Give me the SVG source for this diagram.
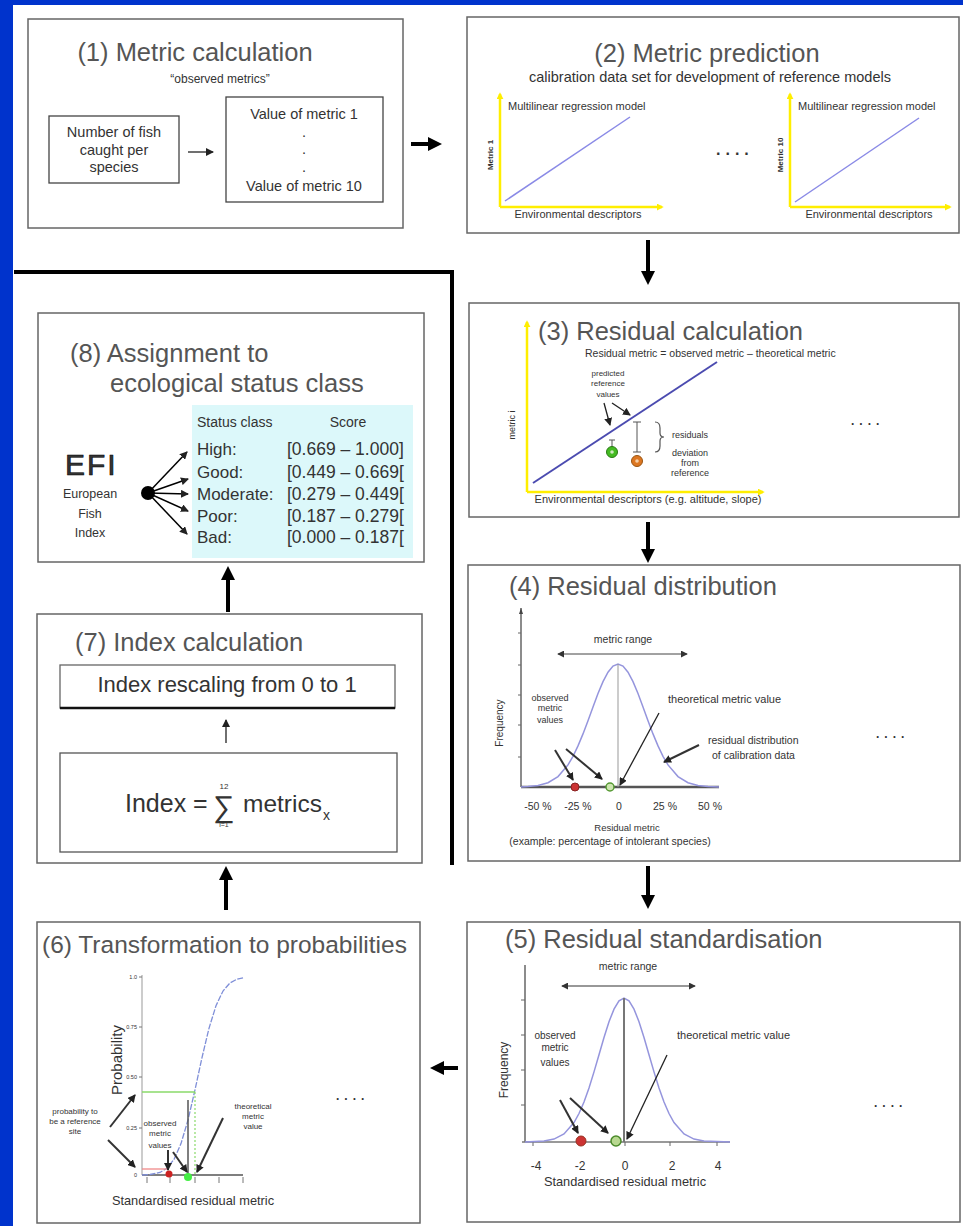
<svg xmlns="http://www.w3.org/2000/svg" width="963" height="1226" viewBox="0 0 963 1226">
<style>
text{font-family:'Liberation Sans',Arial,Helvetica,sans-serif;fill:#333}
.ttl{font-size:25.5px;fill:#555}
.panel{fill:#fff;stroke:#666;stroke-width:1.5}
.box{fill:none;stroke:#444;stroke-width:1.3}
.big{stroke:#000;stroke-width:4;fill:none;marker-end:url(#bh)}
.thin{stroke:#222;stroke-width:1.3;fill:none;marker-end:url(#sh)}
.ptr{stroke:#333;stroke-width:2;fill:none;marker-end:url(#sh)}
.yel{stroke:#ffee00;stroke-width:2.5;fill:none;marker-end:url(#yh)}
.ax{stroke:#666;stroke-width:1.5;fill:none}
.bell{fill:none;stroke:#9595dd;stroke-width:1.5}
.reg{stroke:#8a8ae6;stroke-width:1.5}
.mid{text-anchor:middle}
.dots{font-size:16px;font-weight:bold;letter-spacing:5px;fill:#333}
</style>
<defs>
<marker id="bh" viewBox="0 0 14 14" markerWidth="14" markerHeight="14" refX="4" refY="7" orient="auto" markerUnits="userSpaceOnUse"><path d="M0,0L14,7L0,14z" fill="#000"/></marker>
<marker id="sh" viewBox="0 0 8 8" markerWidth="8" markerHeight="8" refX="7" refY="4" orient="auto" markerUnits="userSpaceOnUse"><path d="M0,0L8,4L0,8z" fill="#222"/></marker>
<marker id="yh" viewBox="0 0 8 8" markerWidth="7" markerHeight="7" refX="6" refY="4" orient="auto" markerUnits="userSpaceOnUse"><path d="M0,0L8,4L0,8z" fill="#ffee00"/></marker>
<marker id="dh" viewBox="0 0 8 8" markerWidth="7" markerHeight="7" refX="7" refY="4" orient="auto-start-reverse" markerUnits="userSpaceOnUse"><path d="M0,0L8,4L0,8z" fill="#333"/></marker>
</defs>

<rect x="0" y="0" width="963" height="1226" fill="#0033cc"/>
<rect x="13" y="5" width="950" height="1221" fill="#fff"/>

<g id="frame">
<polyline points="14,272 452,272 452,865" fill="none" stroke="#000" stroke-width="4"/>
</g>

<g id="p1">
<rect class="panel" x="28" y="19" width="375" height="209"/>
<text class="ttl mid" x="195" y="61">(1) Metric calculation</text>
<text class="mid" x="220" y="83" font-size="12" fill="#444">“observed metrics”</text>
<rect class="box" x="49" y="116" width="130" height="67"/>
<text class="mid" x="114" y="137" font-size="14.5" fill="#444">Number of fish</text>
<text class="mid" x="114" y="155" font-size="14.5" fill="#444">caught per</text>
<text class="mid" x="114" y="172" font-size="14.5" fill="#444">species</text>
<line class="thin" x1="188" y1="152" x2="213" y2="152"/>
<rect class="box" x="226" y="97" width="157" height="105"/>
<text class="mid" x="304" y="119" font-size="14.5" fill="#444">Value of metric 1</text>
<text class="mid" x="304" y="137" font-size="14.5" fill="#888">.</text>
<text class="mid" x="304" y="154" font-size="14.5" fill="#888">.</text>
<text class="mid" x="304" y="172" font-size="14.5" fill="#888">.</text>
<text class="mid" x="304" y="191" font-size="14.5" fill="#444">Value of metric 10</text>
</g>

<g id="p2">
<rect class="panel" x="467" y="17" width="492" height="216"/>
<text class="ttl mid" x="707" y="62">(2) Metric prediction</text>
<text class="mid" x="710" y="82" font-size="14.5" fill="#444">calibration data set for development of reference models</text>
<line class="yel" x1="500" y1="207" x2="500" y2="94"/>
<line class="yel" x1="500" y1="207" x2="662" y2="207"/>
<line class="reg" x1="505" y1="201" x2="630" y2="117"/>
<text x="508" y="110" font-size="11">Multilinear regression model</text>
<text class="mid" transform="translate(493,155) rotate(-90)" font-size="8" font-weight="bold">Metric 1</text>
<text class="mid" x="578" y="218" font-size="11">Environmental descriptors</text>
<text class="dots" x="716" y="155">....</text>
<line class="yel" x1="790" y1="207" x2="790" y2="94"/>
<line class="yel" x1="790" y1="207" x2="950" y2="207"/>
<line class="reg" x1="795" y1="202" x2="919" y2="118"/>
<text x="798" y="110" font-size="11">Multilinear regression model</text>
<text class="mid" transform="translate(783,155) rotate(-90)" font-size="8" font-weight="bold">Metric 10</text>
<text class="mid" x="869" y="218" font-size="11">Environmental descriptors</text>
</g>

<g id="p3">
<rect class="panel" x="469" y="303" width="490" height="214"/>
<line class="yel" x1="527" y1="492" x2="527" y2="322"/>
<line class="yel" x1="527" y1="492" x2="763" y2="492"/>
<text class="ttl" x="538" y="340">(3) Residual calculation</text>
<line x1="533" y1="483" x2="717" y2="362" stroke="#4b4bb0" stroke-width="2"/>
<text x="585" y="357" font-size="10.5">Residual metric = observed metric – theoretical metric</text>
<text class="mid" x="608" y="376" font-size="8">predicted</text>
<text class="mid" x="608" y="386" font-size="8">reference</text>
<text class="mid" x="608" y="397" font-size="8">values</text>
<line class="thin" x1="604" y1="403" x2="610" y2="425"/>
<line class="thin" x1="612" y1="403" x2="630" y2="415"/>
<line x1="612" y1="440" x2="612" y2="447" stroke="#555" stroke-width="1"/>
<line x1="609" y1="440" x2="615" y2="440" stroke="#555" stroke-width="1"/>
<circle cx="612" cy="452" r="5.5" fill="#44bb22" stroke="#2a7a15" stroke-width="1"/>
<circle cx="612" cy="452" r="1.8" fill="#cfe8c0"/>
<line x1="637" y1="422" x2="637" y2="452" stroke="#555" stroke-width="1"/>
<line x1="633" y1="422" x2="641" y2="422" stroke="#555" stroke-width="1"/>
<line x1="633" y1="452" x2="641" y2="452" stroke="#555" stroke-width="1"/>
<circle cx="637" cy="461" r="5.5" fill="#dd7722" stroke="#995511" stroke-width="1"/>
<circle cx="637" cy="461" r="1.8" fill="#f5d0a8"/>
<path d="M655,422 Q660,422 660,428 L660,433 Q660,437 664,437 Q660,437 660,441 L660,446 Q660,452 655,452" fill="none" stroke="#555" stroke-width="1.2"/>
<text x="672" y="438" font-size="9">residuals</text>
<text class="mid" x="690" y="456" font-size="9">deviation</text>
<text class="mid" x="690" y="466" font-size="9">from</text>
<text class="mid" x="690" y="476" font-size="9">reference</text>
<text class="mid" x="648" y="503" font-size="11">Environmental descriptors (e.g. altitude, slope)</text>
<text class="mid" transform="translate(515,425) rotate(-90)" font-size="9">metric i</text>
<text class="dots" x="851" y="425" style="font-size:12px;letter-spacing:5px">....</text>
</g>

<g id="p4">
<rect class="panel" x="468" y="565" width="492" height="296"/>
<text class="ttl" x="509" y="595">(4) Residual distribution</text>
<line class="ax" x1="521" y1="787" x2="521" y2="608"/>
<path d="M521,608 l-2,6 l4,0z" fill="#444"/>
<line x1="521" y1="787" x2="719" y2="787" stroke="#555" stroke-width="2.5"/>
<path d="M518,633h3M518,665h3M518,695h3M518,725h3M518,757h3" stroke="#666" stroke-width="1"/>
<path class="bell" d="M521,787 L528,786.5 L538,785.5 L548,782.7 L558,776.6 L568,764.9 L573,756.3 L578,745.9 L583,733.9 L588,720.7 L593,706.9 L598,693.5 L603,681.6 L608,672.2 L613,666.1 L618,664 L623,666.1 L628,672.2 L633,681.6 L638,693.5 L643,706.9 L648,720.7 L653,733.9 L658,745.9 L663,756.3 L668,764.9 L678,776.6 L688,782.7 L698,785.5 L708,786.5 L719,787"/>
<line x1="618" y1="664" x2="618" y2="787" stroke="#999" stroke-width="1"/>
<text class="mid" x="623" y="643" font-size="10.5">metric range</text>
<line x1="558" y1="654" x2="687" y2="654" stroke="#444" stroke-width="1" marker-start="url(#dh)" marker-end="url(#dh)"/>
<text class="mid" x="550" y="701" font-size="9">observed</text>
<text class="mid" x="550" y="711" font-size="9">metric</text>
<text class="mid" x="550" y="723" font-size="9">values</text>
<line class="ptr" x1="555" y1="750" x2="573" y2="780"/>
<line class="ptr" x1="566" y1="749" x2="602" y2="779"/>
<text x="668" y="703" font-size="11">theoretical metric value</text>
<line class="thin" x1="659" y1="713" x2="620" y2="785"/>
<text x="708" y="744" font-size="10.5">residual distribution</text>
<text x="712" y="759" font-size="10.5">of calibration data</text>
<line class="ptr" x1="699" y1="745" x2="664" y2="762"/>
<circle cx="575" cy="787" r="4" fill="#cc3333" stroke="#882222" stroke-width="1"/>
<circle cx="610" cy="787" r="4" fill="#cde6b0" stroke="#559933" stroke-width="1.5"/>
<text class="mid" x="538" y="810" font-size="10.5">-50 %</text>
<text class="mid" x="578" y="810" font-size="10.5">-25 %</text>
<text class="mid" x="619" y="810" font-size="10.5">0</text>
<text class="mid" x="665" y="810" font-size="10.5">25 %</text>
<text class="mid" x="710" y="810" font-size="10.5">50 %</text>
<text class="mid" x="627" y="831" font-size="9.5">Residual metric</text>
<text class="mid" x="610" y="845" font-size="10.5">(example: percentage of intolerant species)</text>
<text class="mid" transform="translate(503,723) rotate(-90)" font-size="10">Frequency</text>
<text class="dots" x="876" y="738" style="font-size:12px;letter-spacing:5px">....</text>
</g>

<g id="p5">
<rect class="panel" x="467" y="922" width="493" height="300"/>
<text class="ttl" x="505" y="948">(5) Residual standardisation</text>
<line class="ax" x1="525" y1="1142" x2="525" y2="965"/>
<line x1="522" y1="1142" x2="730" y2="1142" stroke="#777" stroke-width="1.5"/>
<path d="M521,1000h4M521,1035h4M521,1070h4M521,1105h4M533,1142v4M580,1142v4M625,1142v4M670,1142v4M717,1142v4" stroke="#666" stroke-width="1"/>
<path class="bell" d="M525,1142 L544,1141.1 L554,1139.1 L564,1133.9 L574,1122.6 L579,1113.5 L584,1102 L589,1088 L594,1071.9 L599,1054.7 L604,1037.5 L609,1021.7 L614,1009.1 L619,1000.9 L624,998 L629,1000.9 L634,1009.1 L639,1021.7 L644,1037.5 L649,1054.7 L654,1071.9 L659,1088 L664,1102 L669,1113.5 L674,1122.6 L684,1133.9 L694,1139.1 L704,1141.1 L730,1142"/>
<line x1="624" y1="998" x2="624" y2="1142" stroke="#777" stroke-width="2"/>
<text class="mid" x="628" y="970" font-size="10.5">metric range</text>
<line x1="562" y1="986" x2="695" y2="986" stroke="#333" stroke-width="1.2" marker-start="url(#dh)" marker-end="url(#dh)"/>
<text class="mid" x="555" y="1039" font-size="10">observed</text>
<text class="mid" x="555" y="1051" font-size="10">metric</text>
<text class="mid" x="555" y="1066" font-size="10">values</text>
<line class="ptr" x1="560" y1="1100" x2="578" y2="1133"/>
<line class="ptr" x1="570" y1="1098" x2="608" y2="1133"/>
<text x="677" y="1039" font-size="11">theoretical metric value</text>
<line class="thin" x1="667" y1="1055" x2="627" y2="1139"/>
<circle cx="581" cy="1141" r="5" fill="#cc3333" stroke="#993322" stroke-width="1"/>
<circle cx="616" cy="1141" r="5" fill="#b8d890" stroke="#4a8a2a" stroke-width="1.5"/>
<text class="mid" x="536" y="1170" font-size="12">-4</text>
<text class="mid" x="580" y="1170" font-size="12">-2</text>
<text class="mid" x="625" y="1170" font-size="12">0</text>
<text class="mid" x="672" y="1170" font-size="12">2</text>
<text class="mid" x="718" y="1170" font-size="12">4</text>
<text class="mid" x="625" y="1186" font-size="12.8">Standardised residual metric</text>
<text class="mid" transform="translate(508,1070) rotate(-90)" font-size="12">Frequency</text>
<text class="dots" x="874" y="1107" style="font-size:12px;letter-spacing:5px">....</text>
</g>

<g id="p6">
<rect class="panel" x="37" y="922" width="383" height="301"/>
<text class="ttl" x="42" y="953" style="font-size:24.5px">(6) Transformation to probabilities</text>
<line x1="142" y1="1175" x2="142" y2="975" stroke="#aaa" stroke-width="1.2"/>
<line x1="142" y1="1175" x2="243" y2="1175" stroke="#555" stroke-width="1.5"/>
<path d="M139,977h3M139,1027h3M139,1077h3M139,1128h3M147,1177v6M170,1177v6M195,1177v6M219,1177v6M243,1177v6" stroke="#777" stroke-width="1"/>
<text x="137" y="979" font-size="5.5" text-anchor="end" fill="#888">1.0</text>
<text x="137" y="1029" font-size="5.5" text-anchor="end" fill="#888">0.75</text>
<text x="137" y="1079" font-size="5.5" text-anchor="end" fill="#888">0.50</text>
<text x="137" y="1130" font-size="5.5" text-anchor="end" fill="#888">0.25</text>
<text x="137" y="1177" font-size="5.5" text-anchor="end" fill="#888">0</text>
<path d="M142,1175 L150,1174.5 L160,1172.5 L167,1168.2 L174,1159.4 L181,1143.6 L188,1120 L195,1089.9 L202,1057.6 L209,1028.3 L216,1005.7 L223,991 L230,982.9 L237,979.2 L243,977.8" fill="none" stroke="#7f8fd8" stroke-width="1.3" stroke-dasharray="6,1.5"/>
<line x1="142" y1="1092" x2="195" y2="1092" stroke="#8ada6a" stroke-width="1.3"/>
<line x1="195" y1="1092" x2="195" y2="1175" stroke="#8ada6a" stroke-width="1.2" stroke-dasharray="2,2"/>
<line x1="188" y1="1100" x2="188" y2="1175" stroke="#555" stroke-width="1.5"/>
<line x1="142" y1="1169" x2="168" y2="1169" stroke="#f08888" stroke-width="1.3"/>
<text class="mid" x="75" y="1114" font-size="8">probability to</text>
<text class="mid" x="75" y="1124" font-size="8">be a reference</text>
<text class="mid" x="75" y="1134" font-size="8">site</text>
<line class="ptr" x1="110" y1="1127" x2="135" y2="1095"/>
<line class="ptr" x1="108" y1="1140" x2="135" y2="1167"/>
<text class="mid" x="160" y="1126" font-size="8">observed</text>
<text class="mid" x="160" y="1136" font-size="8">metric</text>
<text class="mid" x="160" y="1148" font-size="8">values</text>
<line class="ptr" x1="168" y1="1150" x2="168" y2="1170"/>
<line class="ptr" x1="173" y1="1152" x2="187" y2="1172"/>
<text class="mid" x="253" y="1109" font-size="8">theoretical</text>
<text class="mid" x="253" y="1119" font-size="8">metric</text>
<text class="mid" x="253" y="1129" font-size="8">value</text>
<line class="ptr" x1="223" y1="1118" x2="197" y2="1172"/>
<circle cx="169" cy="1174" r="3.5" fill="#cc2222"/>
<circle cx="188" cy="1177" r="4" fill="#44ee44"/>
<text class="mid" transform="translate(122,1060) rotate(-90)" font-size="15" fill="#555">Probability</text>
<text class="mid" x="193" y="1205" font-size="12.8">Standardised residual metric</text>
<text class="dots" x="336" y="1100" style="font-size:12px;letter-spacing:5px">....</text>
</g>

<g id="p7">
<rect class="panel" x="37" y="614" width="385" height="249"/>
<text class="ttl" x="75" y="651">(7) Index calculation</text>
<rect x="60" y="665" width="335" height="43" fill="none" stroke="#666" stroke-width="1.3"/>
<line x1="60" y1="708" x2="395" y2="708" stroke="#111" stroke-width="2.5"/>
<text class="mid" x="227" y="692" font-size="22" fill="#444">Index rescaling from 0 to 1</text>
<line class="thin" x1="226" y1="743" x2="226" y2="720"/>
<rect x="60" y="753" width="337" height="99" fill="none" stroke="#555" stroke-width="1.3"/>
<text x="125" y="812" font-size="25" fill="#555">Index =</text>
<text class="mid" x="224" y="817" font-size="30" fill="#555">∑</text>
<text class="mid" x="224" y="789" font-size="8" fill="#555">12</text>
<text class="mid" x="224" y="827" font-size="7" fill="#555">i=1</text>
<text x="243" y="812" font-size="24.5" fill="#555">metrics</text>
<text x="323" y="820" font-size="14" fill="#555">x</text>
</g>

<g id="p8">
<rect class="panel" x="38" y="313" width="386" height="249"/>
<text class="ttl" x="70" y="362">(8) Assignment to</text>
<text class="ttl" x="110" y="392">ecological status class</text>
<rect x="192" y="405" width="221" height="153" fill="#dcf8fa"/>
<text x="197" y="427" font-size="14" fill="#335566">Status class</text>
<text class="mid" x="348" y="427" font-size="14" fill="#335566">Score</text>
<text x="197" y="455" font-size="17" fill="#4455bb">High:</text>
<text x="287" y="455" font-size="17.5" fill="#4455bb">[0.669 – 1.000]</text>
<text x="197" y="478" font-size="17" fill="#44aa44">Good:</text>
<text x="287" y="478" font-size="17.5" fill="#44aa44">[0.449 – 0.669[</text>
<text x="197" y="500" font-size="17" fill="#eeee22">Moderate:</text>
<text x="287" y="500" font-size="17.5" fill="#eeee22">[0.279 – 0.449[</text>
<text x="197" y="522" font-size="17" fill="#ffaa66">Poor:</text>
<text x="287" y="522" font-size="17.5" fill="#ffaa66">[0.187 – 0.279[</text>
<text x="197" y="543" font-size="17" fill="#ee4444">Bad:</text>
<text x="287" y="543" font-size="17.5" fill="#ee4444">[0.000 – 0.187[</text>
<text x="65" y="475" font-size="30" fill="#000" stroke="#000" stroke-width="0.6" letter-spacing="2">EFI</text>
<text class="mid" x="90" y="498" font-size="12.5" fill="#444">European</text>
<text class="mid" x="90" y="518" font-size="12.5" fill="#444">Fish</text>
<text class="mid" x="90" y="537" font-size="12.5" fill="#444">Index</text>
<circle cx="148" cy="493" r="7" fill="#000"/>
<line class="thin" x1="148" y1="493" x2="187" y2="452" style="stroke:#000;stroke-width:1.5"/>
<line class="thin" x1="148" y1="493" x2="188" y2="479" style="stroke:#000;stroke-width:1.5"/>
<line class="thin" x1="148" y1="493" x2="188" y2="494" style="stroke:#000;stroke-width:1.5"/>
<line class="thin" x1="148" y1="493" x2="188" y2="511" style="stroke:#000;stroke-width:1.5"/>
<line class="thin" x1="148" y1="493" x2="187" y2="534" style="stroke:#000;stroke-width:1.5"/>
</g>

<g id="connectors">
<line class="big" x1="411" y1="144" x2="432" y2="144"/>
<line class="big" x1="648" y1="240" x2="648" y2="275"/>
<line class="big" x1="648" y1="522" x2="648" y2="553"/>
<line class="big" x1="648" y1="866" x2="648" y2="899"/>
<line class="big" x1="458" y1="1068" x2="440" y2="1068"/>
<line class="big" x1="226" y1="910" x2="226" y2="876"/>
<line class="big" x1="228" y1="612" x2="228" y2="576"/>
</g>
</svg>
